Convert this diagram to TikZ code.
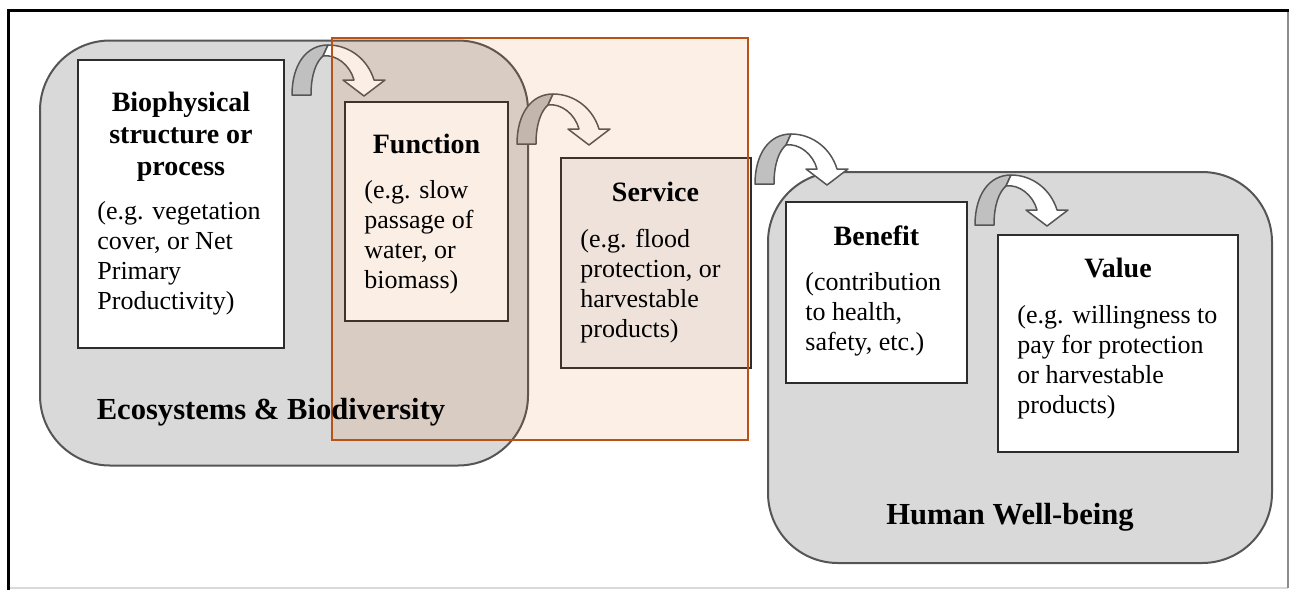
\documentclass[tikz,border=0pt]{standalone}
\usepackage{fontspec}
\setmainfont{Liberation Serif}
\definecolor{grpfill}{RGB}{217,217,217}
\definecolor{grpline}{RGB}{85,85,85}
\definecolor{boxline}{RGB}{45,45,45}
\definecolor{ovlfill}{RGB}{225,95,5}
\definecolor{ovlline}{RGB}{185,82,22}
\definecolor{arrback}{RGB}{192,192,192}
\definecolor{svcfill}{RGB}{241,241,243}
\begin{document}
\begin{tikzpicture}[x=0.5pt,y=-0.5pt,
  grp/.style={draw=grpline,line width=1pt,fill=grpfill,rounded corners=35pt,inner sep=0pt},
  card/.style={draw=boxline,line width=1pt,fill=white,inner sep=0pt},
  ttl/.style={font=\bfseries\fontsize{14}{16}\selectfont,align=center,inner sep=0pt,anchor=north},
  body/.style={font=\fontsize{13}{15}\selectfont,align=left,inner sep=0pt,anchor=north west},
  lbl/.style={font=\bfseries\fontsize{15.3}{18}\selectfont,inner sep=0pt,anchor=base},
  pics/bendarrow/.style={code={
    \filldraw[fill=arrback,draw=grpline,line width=0.75pt,line join=round] (0,0) .. controls (0,-30) and (14,-50) .. (36,-50) -- (31,-39) .. controls (24,-33) and (19,-20) .. (19,0) -- cycle;
    \filldraw[fill=white,draw=grpline,line width=0.75pt,line join=round] (36,-50) .. controls (58,-50) and (76,-35) .. (82,-15) -- (93,-15) -- (72,1) -- (51,-15) -- (62,-15) .. controls (58,-30) and (44,-41) .. (31,-39) -- cycle;
  }}]
\useasboundingbox (0,0) rectangle (1291,590);
% frame
\draw[black!15,line width=1pt] (8.5,588) -- (1288,588);
\draw[black!45,line width=0.6pt] (1288,10.5) -- (1288,588);
\draw[black,line width=1.6pt] (8.5,590) -- (8.5,10.5) -- (1288.5,10.5);

% groups
\node[grp,minimum width=244pt,minimum height=212.5pt] (eco) at (284,253) {};
\node[grp,minimum width=252pt,minimum height=195.5pt] (hwb) at (1020,367.5) {};

% cards
\node[card,minimum width=103pt,minimum height=144pt] (bio) at (181,204) {};
\node[card,minimum width=81.5pt,minimum height=109.5pt] (fun) at (426.5,211.5) {};
\node[card,fill=svcfill,minimum width=95pt,minimum height=105pt] (svc) at (656,263) {};
\node[card,minimum width=90.5pt,minimum height=90.5pt] (ben) at (876.5,292.5) {};
\node[card,minimum width=120pt,minimum height=108.5pt] (val) at (1118,343.5) {};

% curved arrows
\pic at (292,95) {bendarrow};
\pic at (517,144) {bendarrow};
\pic at (755,184) {bendarrow};
\pic at (975,225) {bendarrow};

% translucent overlay
\node[draw=ovlline,line width=1pt,fill=ovlfill,fill opacity=0.1,draw opacity=1,minimum width=208pt,minimum height=201pt,inner sep=0pt] (ovl) at (540,239) {};

% texts
\node[ttl] (biot) at (181,88.6) {\strut Biophysical\\structure or\\process};
\node[body] (biob) at (97,198) {\strut(e.g. vegetation\\cover, or Net\\Primary\\Productivity)};
\node[ttl] (funt) at (426.5,130.6) {\strut Function};
\node[body] (funb) at (364,177) {\strut(e.g. slow\\passage of\\water, or\\biomass)};
\node[ttl] (svct) at (655.5,178.6) {\strut Service};
\node[body] (svcb) at (580,226) {\strut(e.g. flood\\protection, or\\harvestable\\products)};
\node[ttl] (bent) at (876.5,222.6) {\strut Benefit};
\node[body] (benb) at (805,269) {\strut(contribution\\to health,\\safety, etc.)};
\node[ttl] (valt) at (1118,254.6) {\strut Value};
\node[body] (valb) at (1017,302) {\strut(e.g. willingness to\\pay for protection\\or harvestable\\products)};
\node[lbl] (ecol) at (271,419) {Ecosystems \& Biodiversity};
\node[lbl] (hwbl) at (1010,524) {Human Well-being};
\end{tikzpicture}
\end{document}
